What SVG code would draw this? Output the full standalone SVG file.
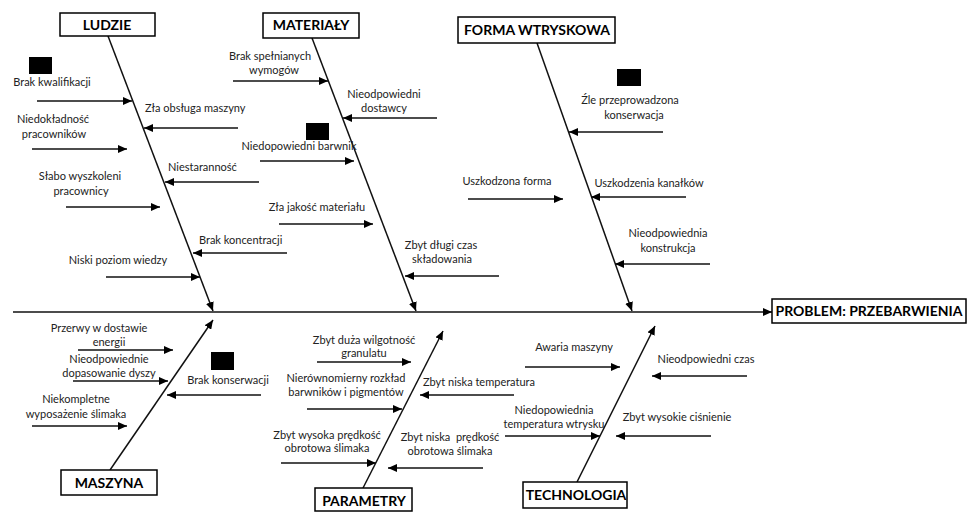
<svg xmlns="http://www.w3.org/2000/svg" width="968" height="512" viewBox="0 0 968 512">
<style>
.t{font-family:Lato,"Liberation Sans",sans-serif;font-size:11px;fill:#222;}
.m{text-anchor:middle;}
.h{font-family:Lato,"Liberation Sans",sans-serif;font-size:14px;font-weight:bold;fill:#000;text-anchor:middle;}
.box{fill:#fff;stroke:#000;stroke-width:1.5;}
.red{fill:#000;}
.c line{stroke:#111;stroke-width:1.5;marker-end:url(#ah);}
</style>
<defs>
<marker id="ah" markerUnits="userSpaceOnUse" markerWidth="10" markerHeight="8" refX="9" refY="4" orient="auto">
<path d="M0,0 L9,4 L0,8 z" fill="#000"/>
</marker>
</defs>
<rect width="968" height="512" fill="#fff"/>
<g id="connectors" class="c">
<line x1="13" y1="312" x2="772" y2="312"/>
<line x1="108" y1="36" x2="213" y2="311"/>
<line x1="312" y1="38" x2="416" y2="311"/>
<line x1="537" y1="43" x2="632" y2="311"/>
<line x1="110" y1="470" x2="213" y2="320"/>
<line x1="363" y1="488" x2="443" y2="331"/>
<line x1="577" y1="482" x2="655" y2="326"/>
<line x1="37" y1="101" x2="132" y2="101"/>
<line x1="32" y1="149" x2="127" y2="149"/>
<line x1="66" y1="207" x2="160" y2="207"/>
<line x1="106" y1="277" x2="200" y2="277"/>
<line x1="238" y1="128" x2="144" y2="128"/>
<line x1="259" y1="182" x2="165" y2="182"/>
<line x1="287" y1="253" x2="193" y2="253"/>
<line x1="233" y1="81" x2="328" y2="81"/>
<line x1="260" y1="161" x2="354" y2="161"/>
<line x1="279" y1="224" x2="373" y2="224"/>
<line x1="437" y1="118" x2="343" y2="118"/>
<line x1="499" y1="276" x2="405" y2="276"/>
<line x1="468" y1="199" x2="563" y2="199"/>
<line x1="663" y1="132" x2="569" y2="132"/>
<line x1="686" y1="197" x2="591" y2="197"/>
<line x1="710" y1="264" x2="615" y2="264"/>
<line x1="78" y1="350" x2="173" y2="350"/>
<line x1="73" y1="381" x2="168" y2="381"/>
<line x1="32" y1="426" x2="127" y2="426"/>
<line x1="261" y1="395" x2="167" y2="395"/>
<line x1="317" y1="362" x2="411" y2="362"/>
<line x1="307" y1="409" x2="402" y2="409"/>
<line x1="281" y1="463" x2="376" y2="463"/>
<line x1="514" y1="395" x2="420" y2="395"/>
<line x1="483" y1="468" x2="388" y2="468"/>
<line x1="525" y1="367" x2="620" y2="367"/>
<line x1="505" y1="436" x2="600" y2="436"/>
<line x1="747" y1="376" x2="652" y2="376"/>
<line x1="711" y1="436" x2="616" y2="436"/>
</g>
<g id="ludzie"><rect class="box" x="60" y="13" width="95" height="23"/><text class="h" x="107" y="30">LUDZIE</text></g>
<g id="materialy"><rect class="box" x="263" y="13" width="96" height="25"/><text class="h" x="311" y="30">MATERIAŁY</text></g>
<g id="forma"><rect class="box" x="458" y="17" width="157" height="26"/><text class="h" x="537" y="35">FORMA WTRYSKOWA</text></g>
<g id="maszyna"><rect class="box" x="61" y="470" width="96" height="25"/><text class="h" x="109" y="488">MASZYNA</text></g>
<g id="parametry"><rect class="box" x="315" y="488" width="97" height="23"/><text class="h" x="364" y="506">PARAMETRY</text></g>
<g id="technologia"><rect class="box" x="523" y="482" width="104" height="26"/><text class="h" x="576" y="500">TECHNOLOGIA</text></g>
<g id="problem"><rect class="box" x="772" y="299" width="194" height="24"/><text class="h" x="869" y="316">PROBLEM: PRZEBARWIENIA</text></g>

<g id="c-brak-kwalifikacji"><rect class="red" x="29" y="57" width="23" height="17"/><text class="t m" x="52" y="86">Brak kwalifikacji</text></g>
<g id="c-niedokladnosc"><text class="t m" x="53" y="123">Niedokładność</text><text class="t m" x="54" y="138">pracowników</text></g>
<g id="c-slabo"><text class="t m" x="80" y="180">Słabo wyszkoleni</text><text class="t m" x="81" y="195">pracownicy</text></g>
<g id="c-niski"><text class="t m" x="118" y="264">Niski poziom wiedzy</text></g>
<g id="c-zla-obsluga"><text class="t" x="145" y="112">Zła obsługa maszyny</text></g>
<g id="c-niestarannosc"><text class="t" x="168" y="171">Niestaranność</text></g>
<g id="c-brak-koncentracji"><text class="t" x="199" y="244">Brak koncentracji</text></g>

<g id="c-brak-spelnianych"><text class="t m" x="270" y="60">Brak spełnianych</text><text class="t m" x="274" y="74">wymogów</text></g>
<g id="c-barwnik"><rect class="red" x="306" y="123" width="23" height="17"/><text class="t m" x="299" y="150">Niedopowiedni barwnik</text></g>
<g id="c-zla-jakosc"><text class="t m" x="317" y="211">Zła jakość materiału</text></g>
<g id="c-dostawcy"><text class="t m" x="384" y="98">Nieodpowiedni</text><text class="t m" x="384" y="112">dostawcy</text></g>
<g id="c-zbyt-dlugi"><text class="t m" x="441" y="249">Zbyt długi czas</text><text class="t m" x="442" y="263">składowania</text></g>

<g id="c-uszkodzona-forma"><text class="t m" x="507" y="185">Uszkodzona forma</text></g>
<g id="c-zle-konserwacja"><rect class="red" x="617" y="69" width="24" height="17"/><text class="t m" x="630" y="104">Źle przeprowadzona</text><text class="t m" x="634" y="119">konserwacja</text></g>
<g id="c-kanalkow"><text class="t m" x="649" y="187">Uszkodzenia kanałków</text></g>
<g id="c-konstrukcja"><text class="t m" x="668" y="237">Nieodpowiednia</text><text class="t m" x="668" y="252">konstrukcja</text></g>

<g id="c-przerwy"><text class="t m" x="99" y="332">Przerwy w dostawie</text><text class="t m" x="109" y="346">energii</text></g>
<g id="c-dyszy"><text class="t m" x="109" y="363">Nieodpowiednie</text><text class="t m" x="109" y="377">dopasowanie dyszy</text></g>
<g id="c-niekompletne"><text class="t m" x="76" y="403">Niekompletne</text><text class="t m" x="76" y="418">wyposażenie ślimaka</text></g>
<g id="c-brak-konserwacji"><rect class="red" x="211" y="352" width="23" height="18"/><text class="t m" x="228" y="384">Brak konserwacji</text></g>

<g id="c-wilgotnosc"><text class="t m" x="364" y="344">Zbyt duża wilgotność</text><text class="t m" x="364" y="357">granulatu</text></g>
<g id="c-rozklad"><text class="t m" x="346" y="382">Nierównomierny rozkład</text><text class="t m" x="346" y="396">barwników i pigmentów</text></g>
<g id="c-wysoka-predkosc"><text class="t m" x="327" y="439">Zbyt wysoka prędkość</text><text class="t m" x="327" y="452">obrotowa ślimaka</text></g>
<g id="c-niska-temp"><text class="t m" x="479" y="386">Zbyt niska temperatura</text></g>
<g id="c-niska-predkosc"><text class="t m" x="450" y="441" xml:space="preserve">Zbyt niska  prędkość</text><text class="t m" x="450" y="455">obrotowa ślimaka</text></g>

<g id="c-awaria"><text class="t m" x="574" y="351">Awaria maszyny</text></g>
<g id="c-czas"><text class="t m" x="706" y="363">Nieodpowiedni czas</text></g>
<g id="c-temp-wtrysku"><text class="t m" x="554" y="414">Niedopowiednia</text><text class="t m" x="554" y="428">temperatura wtrysku</text></g>
<g id="c-cisnienie"><text class="t m" x="677" y="421">Zbyt wysokie ciśnienie</text></g>
</svg>
